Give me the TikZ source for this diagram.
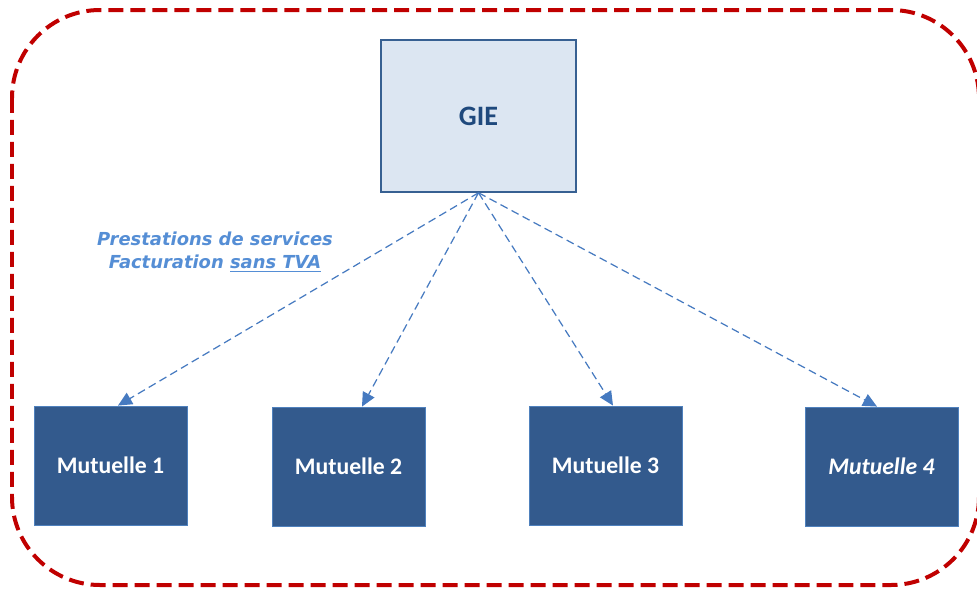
\documentclass[tikz,border=0pt]{standalone}
\usepackage{fontspec}
\setmainfont{Carlito}
\newfontfamily\lblfont{DejaVu Sans}
\usetikzlibrary{arrows.meta}
\definecolor{FrameRed}{RGB}{192, 0, 0}
\definecolor{GieFill}{RGB}{220, 230, 242}
\definecolor{GieLine}{RGB}{55, 96, 146}
\definecolor{GieText}{RGB}{31, 73, 125}
\definecolor{MutFill}{RGB}{51, 90, 141}
\definecolor{MutLine}{RGB}{79, 129, 189}
\definecolor{Flux}{RGB}{70, 122, 192}
\definecolor{LblBlue}{RGB}{85, 142, 213}

\begin{document}
\begin{tikzpicture}[
        x=0.02cm, y=-0.02cm,
        gie/.style = {draw=GieLine, fill=GieFill, line width=0.9pt, minimum width=3.9cm,
            minimum height=3.04cm, text=GieText, font=\fontsize{16}{19}\selectfont\bfseries},
        mutuelle/.style = {draw=MutLine, fill=MutFill, line width=0.5pt, minimum width=3.06cm,
            minimum height=2.38cm, text=white, font=\fontsize{13.5}{16}\selectfont\bfseries},
        flux/.style = {draw=Flux, line width=0.7pt, dash pattern=on 0.16cm off 0.09cm,
            -{Triangle[length=0.28cm, width=0.26cm]}}
    ]
    \useasboundingbox (0,0) rectangle (977,589);

    \draw[FrameRed, line width=0.08cm, dash pattern=on 0.3cm off 0.14cm, rounded corners=1.76cm]
        (12,10) rectangle (979,585);

    \node (gie) at (478.5,116) [gie] {GIE};

    \node (m1) at (110.5,465.5) [mutuelle] {Mutuelle 1};
    \node (m2) at (348.5,466.5) [mutuelle] {Mutuelle 2};
    \node (m3) at (605.5,465.5) [mutuelle] {Mutuelle 3};
    \node (m4) at (881.5,466.5) [mutuelle] {\itshape Mutuelle 4};

    \draw[flux] (gie.south) -- ([xshift=0.15cm]m1.north);
    \draw[flux] (gie.south) -- ([xshift=0.27cm]m2.north);
    \draw[flux] (gie.south) -- ([xshift=0.15cm]m3.north);
    \draw[flux] (gie.south) -- ([xshift=-0.09cm]m4.north);

    \node (lbl) at (215,252) [align=center, text=LblBlue,
        font=\lblfont\fontsize{10.2}{13}\selectfont\bfseries\itshape]
        {Prestations de services\\Facturation \underline{sans TVA}};
\end{tikzpicture}
\end{document}
